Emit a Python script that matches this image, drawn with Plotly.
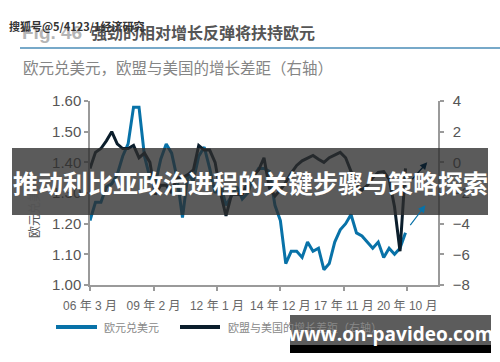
import plotly.graph_objects as go

# ---------------- data ----------------
quarters = [
    "2006-03-01", "2006-06-01", "2006-09-01", "2006-12-01",
    "2007-03-01", "2007-06-01", "2007-09-01", "2007-12-01",
    "2008-03-01", "2008-06-01", "2008-09-01", "2008-12-01",
    "2009-03-01", "2009-06-01", "2009-09-01", "2009-12-01",
    "2010-03-01", "2010-06-01", "2010-09-01", "2010-12-01",
    "2011-03-01", "2011-06-01", "2011-09-01", "2011-12-01",
    "2012-03-01", "2012-06-01", "2012-09-01", "2012-12-01",
    "2013-03-01", "2013-06-01", "2013-09-01", "2013-12-01",
    "2014-03-01", "2014-06-01", "2014-09-01", "2014-12-01",
    "2015-03-01", "2015-06-01", "2015-09-01", "2015-12-01",
    "2016-03-01", "2016-06-01", "2016-09-01", "2016-12-01",
    "2017-03-01", "2017-06-01", "2017-09-01", "2017-12-01",
    "2018-03-01", "2018-06-01", "2018-09-01", "2018-12-01",
    "2019-03-01", "2019-06-01", "2019-09-01", "2019-12-01",
    "2020-03-01", "2020-06-01", "2020-09-01",
]

eurusd = [
    1.21, 1.27, 1.27, 1.32,
    1.33, 1.36, 1.42, 1.46,
    1.58, 1.58, 1.42, 1.35,
    1.33, 1.41, 1.46, 1.43,
    1.35, 1.22, 1.36, 1.34,
    1.42, 1.45, 1.38, 1.30,
    1.33, 1.26, 1.29, 1.32,
    1.28, 1.30, 1.35, 1.38,
    1.38, 1.37, 1.26, 1.21,
    1.07, 1.11, 1.11, 1.09,
    1.14, 1.11, 1.12, 1.05,
    1.07, 1.14, 1.18, 1.20,
    1.23, 1.17, 1.16, 1.14,
    1.12, 1.14, 1.09, 1.12,
    1.10, 1.12, 1.17,
]

growth_gap = [
    -0.4, 0.65, 0.9, 1.4,
    2.0, 1.2, 0.9, 0.9,
    1.1, 0.3, 0.6, 0.0,
    -2.1, -1.5, -1.5, -2.0,
    -1.0, -1.0, -0.8, -0.5,
    1.1, 0.8, 0.8, 0.0,
    -2.0, -3.5, -2.1, -2.1,
    -2.1, -1.3, -0.85, -0.5,
    0.3, -1.7, -2.2, -1.8,
    -1.3, -0.7, -0.2, 0.1,
    0.3, 0.45, 0.2, 0.0,
    0.3, 0.45, 0.65, 0.3,
    -0.6, -1.5, -1.8, -1.5,
    -1.0, -0.65, -0.6, -1.1,
    -2.9, -5.8, -0.4,
]

x_tickvals = ["2006-03-01", "2009-02-01", "2012-01-01", "2014-12-01", "2017-11-01", "2020-10-01"]
x_ticktext = ["06 年 3 月", "09 年 2 月", "12 年 1 月", "14 年 12 月", "17 年 11 月", "20 年 10 月"]
left_ticks = [1.00, 1.10, 1.20, 1.30, 1.40, 1.50, 1.60]
right_ticks = [-8, -6, -4, -2, 0, 2, 4]

# trend arrows (tail -> head) in data units
gap_arrow = {"tail": ("2020-12-01", -1.2), "head": ("2021-09-01", 0.0)}
fx_arrow = {"tail": ("2020-11-01", 1.19), "head": ("2021-08-01", 1.26)}

series_names = ["欧元兑美元", "欧盟与美国的增长差距（右轴）"]

# ---------------- style ----------------
BLUE = "#0872a8"
DARK = "#0b1e2c"
AXIS = "#9a9a9a"
TXT = "#555555"
FONT = "Liberation Sans, Noto Sans CJK SC, sans-serif"
CJK = "Noto Sans CJK SC, sans-serif"

W, H = 500, 362
L, R, T, B = 90, 62, 101, 77
PW, PH = W - L - R, H - T - B


def px(x):
    return (x - L) / PW


def py(y):
    return (H - B - y) / PH


fig = go.Figure()
fig.add_trace(go.Scatter(x=quarters, y=eurusd, mode="lines", name=series_names[0],
                         line=dict(color=BLUE, width=3), yaxis="y"))
fig.add_trace(go.Scatter(x=quarters, y=growth_gap, mode="lines", name=series_names[1],
                         line=dict(color=DARK, width=3), yaxis="y2"))

annotations = []
shapes = []

# arrows
annotations.append(dict(x=gap_arrow["head"][0], y=gap_arrow["head"][1], xref="x", yref="y2",
                         ax=gap_arrow["tail"][0], ay=gap_arrow["tail"][1], axref="x", ayref="y2",
                         showarrow=True, arrowhead=2, arrowsize=1.2, arrowwidth=1.2,
                         arrowcolor=DARK, text=""))
annotations.append(dict(x=fx_arrow["head"][0], y=fx_arrow["head"][1], xref="x", yref="y",
                         ax=fx_arrow["tail"][0], ay=fx_arrow["tail"][1], axref="x", ayref="y",
                         showarrow=True, arrowhead=2, arrowsize=1.2, arrowwidth=1.2,
                         arrowcolor=BLUE, text=""))

# title block
annotations.append(dict(x=px(20), y=py(32), xref="paper", yref="paper", xanchor="left", yanchor="middle",
                        text="<b>Fig. 46</b>", showarrow=False,
                        font=dict(family=FONT, size=19, color="#b5b5b5")))
annotations.append(dict(x=px(89), y=py(32), xref="paper", yref="paper", xanchor="left", yanchor="middle",
                        text="<b>强劲的相对增长反弹将扶持欧元</b>", showarrow=False,
                        font=dict(family=CJK, size=16, color="#555555")))
annotations.append(dict(x=px(7), y=py(26), xref="paper", yref="paper", xanchor="left", yanchor="middle",
                        text="<b>搜狐号@5/4123/1经济研究</b>", showarrow=False,
                        font=dict(family=CJK, size=11, color="#333333")))
shapes.append(dict(type="line", xref="paper", yref="paper", x0=px(20), x1=px(500), y0=py(48), y1=py(48),
                   line=dict(color="#4a8db7", width=1.5)))
annotations.append(dict(x=px(21), y=py(67), xref="paper", yref="paper", xanchor="left", yanchor="middle",
                        text="欧元兑美元，欧盟与美国的增长差距（右轴）", showarrow=False,
                        font=dict(family=CJK, size=15.5, color="#858585")))

# left axis title
annotations.append(dict(x=px(33), y=py(208), xref="paper", yref="paper", xanchor="center", yanchor="middle",
                        text="欧元兑美元", textangle=-90, showarrow=False,
                        font=dict(family=CJK, size=12, color=TXT)))

# legend (drawn manually)
shapes.append(dict(type="line", xref="paper", yref="paper", x0=px(56), x1=px(97), y0=py(327), y1=py(327),
                   line=dict(color=BLUE, width=4)))
annotations.append(dict(x=px(102), y=py(327), xref="paper", yref="paper", xanchor="left", yanchor="middle",
                        text=series_names[0], showarrow=False,
                        font=dict(family=CJK, size=11, color="#888888")))
shapes.append(dict(type="line", xref="paper", yref="paper", x0=px(180), x1=px(220), y0=py(327), y1=py(327),
                   line=dict(color=DARK, width=4)))
annotations.append(dict(x=px(226), y=py(327), xref="paper", yref="paper", xanchor="left", yanchor="middle",
                        text=series_names[1], showarrow=False,
                        font=dict(family=CJK, size=11, color="#888888")))

# overlay banner
shapes.append(dict(type="rect", xref="paper", yref="paper", x0=px(12), x1=px(488), y0=py(215), y1=py(148),
                   fillcolor="rgba(45,45,45,0.78)", line=dict(width=0), layer="above"))
annotations.append(dict(x=px(250), y=py(182), xref="paper", yref="paper", xanchor="center", yanchor="middle",
                        text="<b>推动利比亚政治进程的关键步骤与策略探索</b>", showarrow=False,
                        font=dict(family=CJK, size=25, color="#ffffff")))

# watermark box
shapes.append(dict(type="rect", xref="paper", yref="paper", x0=px(290), x1=px(491), y0=py(345), y1=py(315),
                   fillcolor="rgba(70,70,70,0.88)", line=dict(width=0), layer="above"))
shapes.append(dict(type="rect", xref="paper", yref="paper", x0=px(290), x1=px(491), y0=py(353), y1=py(345),
                   fillcolor="#000000", line=dict(width=0), layer="above"))
annotations.append(dict(x=px(390), y=py(334), xref="paper", yref="paper", xanchor="center", yanchor="middle",
                        text="<b>www.on-pavideo.com</b>", showarrow=False,
                        font=dict(family="Open Sans, Liberation Sans, sans-serif", size=19, color="#ffffff")))

fig.update_layout(
    width=W, height=H,
    margin=dict(l=L, r=R, t=T, b=B, pad=0),
    paper_bgcolor="white", plot_bgcolor="white",
    showlegend=False,
    font=dict(family=FONT, color=TXT),
    xaxis=dict(type="date", range=["2006-03-01", "2022-03-01"],
               tickvals=x_tickvals, ticktext=x_ticktext, tickangle=0,
               showline=True, linecolor=AXIS, linewidth=1.5,
               ticks="outside", ticklen=4, tickcolor=AXIS, tickwidth=1.5,
               showgrid=False, zeroline=False, ticklabelstandoff=5,
               tickfont=dict(family=FONT, size=12, color="#666666")),
    yaxis=dict(range=[1.0, 1.6], tickvals=left_ticks, tickformat=".2f",
               showline=True, linecolor=AXIS, linewidth=1.5,
               ticks="outside", ticklen=4, tickcolor=AXIS, tickwidth=1.5,
               showgrid=False, zeroline=False,
               tickfont=dict(family=FONT, size=15, color=TXT)),
    yaxis2=dict(range=[-8, 4], tickvals=right_ticks, overlaying="y", side="right",
                showline=True, linecolor=AXIS, linewidth=1.5,
                ticks="outside", ticklen=4, tickcolor=AXIS, tickwidth=1.5,
                showgrid=False, zeroline=False, ticklabelstandoff=6,
                tickfont=dict(family=FONT, size=15, color=TXT)),
    annotations=annotations,
    shapes=shapes,
)

fig.write_html("out.html")
